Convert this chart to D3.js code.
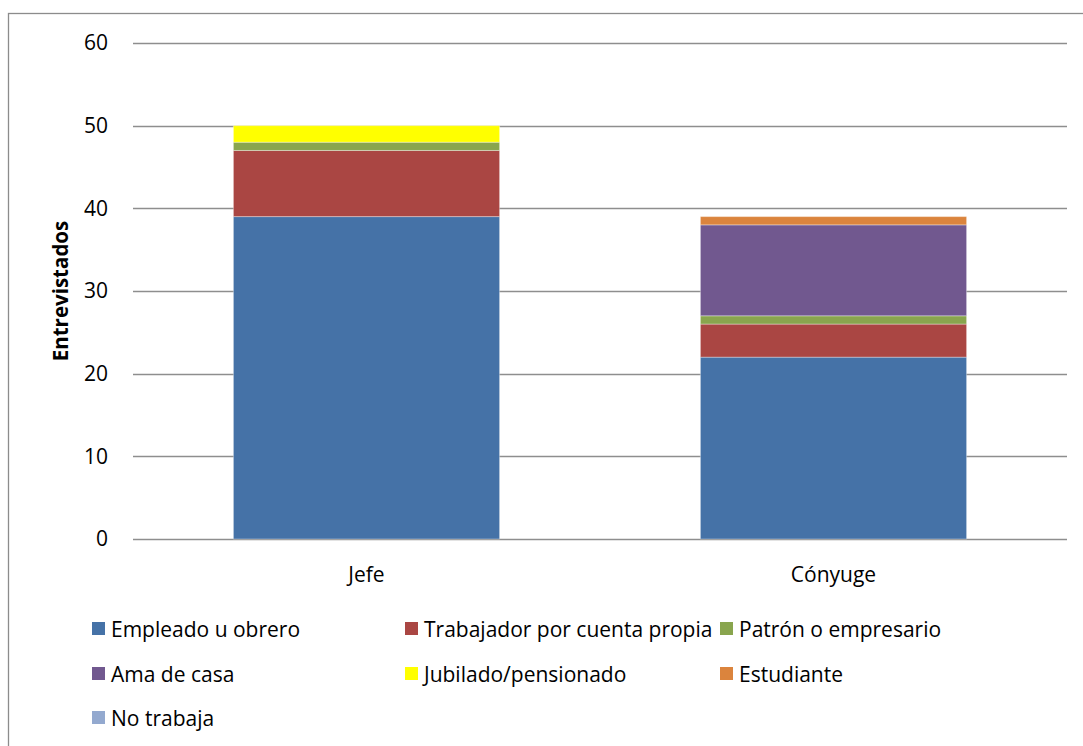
<!DOCTYPE html>
<html>
<head>
<meta charset="utf-8">
<script src="https://cdn.jsdelivr.net/npm/d3@7"></script>
<style>
  html, body { margin: 0; padding: 0; background: #fff; }
  svg { display: block; font-family: "Open Sans", sans-serif; }
  svg text { font-family: "Open Sans", sans-serif; }
</style>
</head>
<body>
<svg id="chart" width="1083" height="746"></svg>
<script>
// Occupation of interviewees by household role
const categories = ["Jefe", "Cónyuge"];
const seriesNames = [
  "Empleado u obrero",
  "Trabajador por cuenta propia",
  "Patrón o empresario",
  "Ama de casa",
  "Jubilado/pensionado",
  "Estudiante",
  "No trabaja"
];
const seriesColors = ["#4572A7", "#AA4643", "#89A54E", "#71588F", "#FFFF00", "#DB843D", "#93A9CF"];
// values[series][category]
const empleado    = [39, 22];
const trabajador  = [8, 4];
const patron      = [1, 1];
const amaDeCasa   = [0, 11];
const jubilado    = [2, 0];
const estudiante  = [0, 1];
const noTrabaja   = [0, 0];
const yTicks = [0, 10, 20, 30, 40, 50, 60];
const yTitle = "Entrevistados";

const seriesValues = [empleado, trabajador, patron, amaDeCasa, jubilado, estudiante, noTrabaja];
const table = categories.map((c, i) => {
  const row = { category: c };
  seriesNames.forEach((s, k) => row[s] = seriesValues[k][i]);
  return row;
});

const svg = d3.select("#chart");
const FS = 21;

// outer chart frame
svg.append("rect")
  .attr("x", 8.5).attr("y", 13.5)
  .attr("width", 1100).attr("height", 800)
  .attr("fill", "none").attr("stroke", "#8c8c8c").attr("stroke-width", 1.3);

const plot = { left: 133, right: 1067, top: 43, bottom: 539 };

const x = d3.scaleBand().domain(categories)
  .range([plot.left, plot.right]).paddingInner(0.43).paddingOuter(0.215);
const y = d3.scaleLinear().domain([0, 60]).range([plot.bottom, plot.top]);

// gridlines
svg.append("g").selectAll("line").data(yTicks).join("line")
  .attr("x1", plot.left).attr("x2", plot.right)
  .attr("y1", d => Math.round(y(d)) + 0.5).attr("y2", d => Math.round(y(d)) + 0.5)
  .attr("stroke", "#8e8e8e").attr("stroke-width", 1.3);

// y axis labels
const yAxis = d3.axisLeft(y).tickValues(yTicks).tickSize(0).tickPadding(0);
const gy = svg.append("g").attr("transform", `translate(${plot.left - 25},0)`).call(yAxis);
gy.attr("font-family", null).attr("font-size", null);
gy.select(".domain").remove();
gy.selectAll("text").style("font-size", FS + "px").attr("fill", "#000");

// stacked bars
const stack = d3.stack().keys(seriesNames);
const layers = stack(table);
svg.append("g").selectAll("g").data(layers).join("g")
  .attr("fill", (d, i) => seriesColors[i])
  .selectAll("rect").data(d => d).join("rect")
  .attr("x", d => x(d.data.category))
  .attr("width", x.bandwidth())
  .attr("y", d => y(d[1]))
  .attr("height", d => y(d[0]) - y(d[1]))
  .attr("stroke", "rgba(255,255,255,0.35)")
  .attr("stroke-width", d => (d[1] - d[0]) > 0 ? 1 : 0);

// x axis labels
const xAxis = d3.axisBottom(x).tickSize(0).tickPadding(0);
const gx = svg.append("g").attr("transform", `translate(0,${plot.bottom + 28})`).call(xAxis);
gx.attr("font-family", null).attr("font-size", null);
gx.select(".domain").remove();
gx.selectAll("text").style("font-size", FS + "px").attr("fill", "#000");

// y axis title
svg.append("text")
  .attr("transform", `translate(68,${(plot.top + plot.bottom) / 2}) rotate(-90)`)
  .attr("text-anchor", "middle")
  .style("font-size", "20.5px").attr("font-weight", "bold")
  .text(yTitle);

// legend
const legendCols = [92, 405, 720];
const legendRows = [622, 667, 711];
const legend = svg.append("g").selectAll("g").data(seriesNames).join("g")
  .attr("transform", (d, i) => `translate(${legendCols[i % 3]},${legendRows[Math.floor(i / 3)]})`);
legend.append("rect").attr("width", 13).attr("height", 13)
  .attr("fill", (d, i) => seriesColors[i]);
legend.append("text").attr("x", 19).attr("y", 15)
  .style("font-size", FS + "px").attr("fill", "#000")
  .text(d => d);
</script>
</body>
</html>
